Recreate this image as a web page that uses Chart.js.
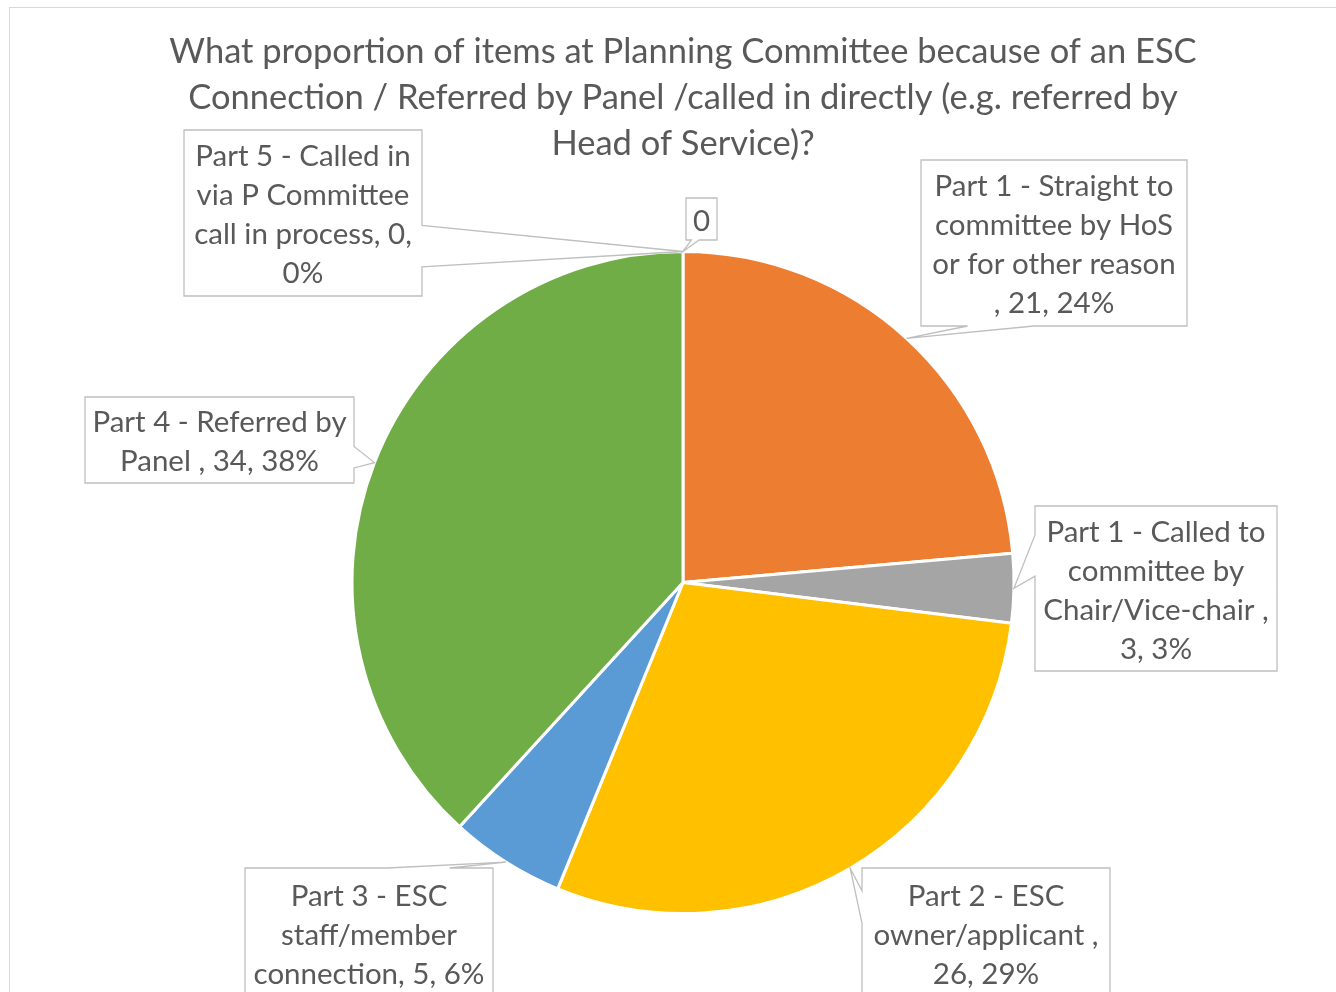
<!DOCTYPE html>
<html>
<head>
<meta charset="utf-8">
<script src="https://cdn.jsdelivr.net/npm/chart.js@4.4.1/dist/chart.umd.min.js"></script>
<style>
    html, body { margin: 0; padding: 0; background: #fff; overflow: hidden; }
    #frame { position: absolute; left: 9px; top: 7px; width: 1400px; height: 1100px; border: 1px solid #d9d9d9; }
    #wrap { position: absolute; left: 0; top: 0; width: 1336px; height: 992px; }
</style>
</head>
<body>
<div id="frame"></div>
<div id="wrap"><canvas id="pieChart"></canvas></div>
<script>
const categories = [
    '',
    'Part 1 - Straight to committee by HoS or for other reason ',
    'Part 1 - Called to committee by Chair/Vice-chair ',
    'Part 2 - ESC owner/applicant ',
    'Part 3 - ESC staff/member connection',
    'Part 4 - Referred by Panel ',
    'Part 5 - Called in via P Committee call in process'
];
const itemCounts = [0, 21, 3, 26, 5, 34, 0];
const sliceColors = ['#4472C4', '#ED7D31', '#A5A5A5', '#FFC000', '#5B9BD5', '#70AD47', '#264478'];
const titleLines = [
    'What proportion of items at Planning Committee because of an ESC',
    'Connection / Referred by Panel /called in directly (e.g. referred by',
    'Head of Service)?'
];

// where each callout box sits, and which side its pointer leaves from
const calloutBoxes = [
    { x: 686, y: 198, w: 31, h: 42, side: 'bottom' },
    { x: 921, y: 160, w: 266, h: 166, side: 'bottom' },
    { x: 1035, y: 506, w: 242, h: 165, side: 'left' },
    { x: 862, y: 868, w: 248, h: 130, side: 'left' },
    { x: 245, y: 868, w: 248, h: 131, side: 'top' },
    { x: 85, y: 397, w: 269, h: 86, side: 'right' },
    { x: 184, y: 130, w: 238, h: 166, side: 'right' }
];

const FONT = 'Lato, "Open Sans", sans-serif';
const TEXT_COLOR = '#595959';
const LABEL_SIZE = 29.5;
const LABEL_LINE = 39;

const total = itemCounts.reduce((s, v) => s + v, 0);

function labelText(i) {
    const v = itemCounts[i];
    if (!categories[i]) return String(v);
    const pct = Math.round(v / total * 100);
    return categories[i] + ', ' + v + ', ' + pct + '%';
}

function wrapText(ctx, text, maxWidth) {
    const words = text.split(' ').filter(w => w.length);
    const lines = [];
    let line = '';
    words.forEach(w => {
        const test = line ? line + ' ' + w : w;
        if (line && ctx.measureText(test).width > maxWidth) {
            lines.push(line);
            line = w;
        } else {
            line = test;
        }
    });
    if (line) lines.push(line);
    return lines;
}

function calloutPath(ctx, b, tip) {
    const vertical = b.side === 'left' || b.side === 'right';
    const len = vertical ? b.h : b.w;
    const start = vertical ? b.y : b.x;
    const proj = vertical ? tip.y : tip.x;
    const c = proj < start + len / 2 ? start + 0.3 * len : start + 0.7 * len;
    const a = c - 0.125 * len, z = c + 0.125 * len;
    const { x, y, w, h } = b;

    ctx.beginPath();
    ctx.moveTo(x, y);
    if (b.side === 'top') { ctx.lineTo(a, y); ctx.lineTo(tip.x, tip.y); ctx.lineTo(z, y); }
    ctx.lineTo(x + w, y);
    if (b.side === 'right') { ctx.lineTo(x + w, a); ctx.lineTo(tip.x, tip.y); ctx.lineTo(x + w, z); }
    ctx.lineTo(x + w, y + h);
    if (b.side === 'bottom') { ctx.lineTo(z, y + h); ctx.lineTo(tip.x, tip.y); ctx.lineTo(a, y + h); }
    ctx.lineTo(x, y + h);
    if (b.side === 'left') { ctx.lineTo(x, z); ctx.lineTo(tip.x, tip.y); ctx.lineTo(x, a); }
    ctx.closePath();
}

const calloutPlugin = {
    id: 'callouts',
    afterDatasetsDraw(chart) {
        const ctx = chart.ctx;
        const arcs = chart.getDatasetMeta(0).data;
        ctx.save();
        ctx.font = LABEL_SIZE + 'px ' + FONT;
        arcs.forEach((arc, i) => {
            const b = calloutBoxes[i];
            if (!b) return;
            const p = arc.getProps(['x', 'y', 'startAngle', 'endAngle', 'outerRadius'], true);
            const mid = (p.startAngle + p.endAngle) / 2;
            const tip = {
                x: p.x + Math.cos(mid) * p.outerRadius,
                y: p.y + Math.sin(mid) * p.outerRadius
            };

            calloutPath(ctx, b, tip);
            ctx.fillStyle = '#fff';
            ctx.fill();
            ctx.strokeStyle = '#bfbfbf';
            ctx.lineWidth = 1.3;
            ctx.stroke();

            const lines = wrapText(ctx, labelText(i), b.w - 14);
            const cx = b.x + b.w / 2;
            const top = b.y + b.h / 2 + 2 - (lines.length - 1) * LABEL_LINE / 2;
            ctx.fillStyle = TEXT_COLOR;
            ctx.textAlign = 'center';
            ctx.textBaseline = 'middle';
            lines.forEach((ln, k) => ctx.fillText(ln, cx, top + k * LABEL_LINE));
        });
        ctx.restore();
    }
};

new Chart(document.getElementById('pieChart'), {
    type: 'pie',
    data: {
        labels: categories,
        datasets: [{
            data: itemCounts,
            backgroundColor: sliceColors,
            borderColor: '#ffffff',
            borderWidth: 3
        }]
    },
    options: {
        responsive: true,
        maintainAspectRatio: false,
        animation: false,
        layout: {
            padding: { left: 30, right: 0, top: 0, bottom: 77 }
        },
        plugins: {
            legend: { display: false },
            tooltip: { enabled: false },
            title: {
                display: true,
                text: titleLines,
                color: TEXT_COLOR,
                font: { family: FONT, size: 34.5, weight: 'normal', lineHeight: 46 / 34.5 },
                padding: { top: 29, bottom: 83 }
            }
        }
    },
    plugins: [calloutPlugin]
});
</script>
</body>
</html>
